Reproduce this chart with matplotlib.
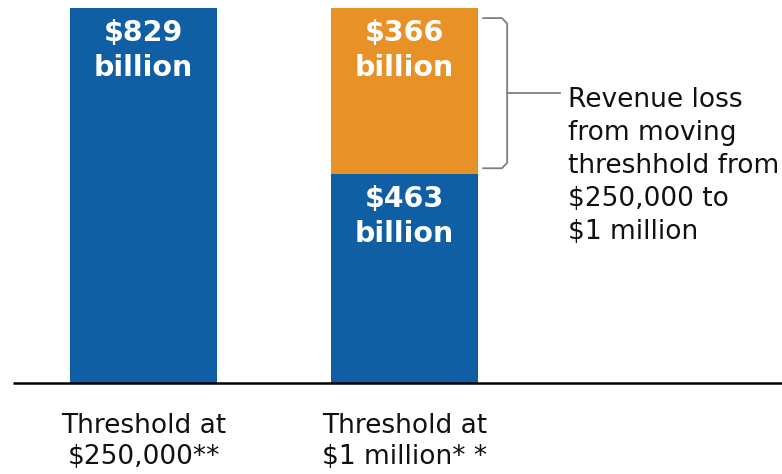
import matplotlib
matplotlib.use("Agg")
import matplotlib.pyplot as plt

categories = [["Threshold at", "$250,000**"], ["Threshold at", "$1 million* *"]]
base_values = [829, 463]
loss_values = [0, 366]
base_labels = [["$829", "billion"], ["$463", "billion"]]
loss_label = ["$366", "billion"]
note = ["Revenue loss", "from moving", "threshhold from", "$250,000 to", "$1 million"]

blue = "#105ea3"
orange = "#e89127"
font = "DejaVu Sans"

fig = plt.figure(figsize=(7.82, 4.74), dpi=100)
ax = fig.add_axes([0, 0, 1, 1])
x = [0, 1]
ax.bar(x, base_values, width=0.563, color=blue)
ax.bar(x, loss_values, bottom=base_values, width=0.563, color=orange)

ax.set_xlim(-0.55, 2.446)
ax.set_ylim(-201, 847)
ax.axis("off")
ax.plot([-0.5, 2.446], [0, 0], color="black", lw=1.8, solid_capstyle="butt")


def bar_label(xc, top, lines):
    # two stacked lines just under the top of a segment
    for off, s in zip([73, 150], lines):
        ax.text(xc, top - off, s, color="white", ha="center", va="baseline",
                fontsize=20.5, fontweight="bold", family=font)


bar_label(0, base_values[0], base_labels[0])
bar_label(1, base_values[1], base_labels[1])
bar_label(1, base_values[1] + loss_values[1], loss_label)

# category labels
for xi, c in zip(x, categories):
    ax.text(xi, -110, c[0], ha="center", va="baseline", fontsize=19, family=font, color="#111111")
    ax.text(xi, -178, c[1], ha="center", va="baseline", fontsize=19, family=font, color="#111111")

# bracket
top = 807
bot = 475
mid = 641
bx0, bx1 = 1.301, 1.393
ax.plot([bx0, bx1 - 0.02, bx1, bx1, bx1 - 0.02, bx0],
        [top, top, top - 12, bot + 12, bot, bot], color="#808080", lw=1.3)
ax.plot([bx1, 1.596], [mid, mid], color="#808080", lw=1.3)

for i, s in enumerate(note):
    ax.text(1.626, 610 - i * 73, s, ha="left", va="baseline", fontsize=19, family=font,
            color="#111111")

fig.savefig("out.png", dpi=100)
